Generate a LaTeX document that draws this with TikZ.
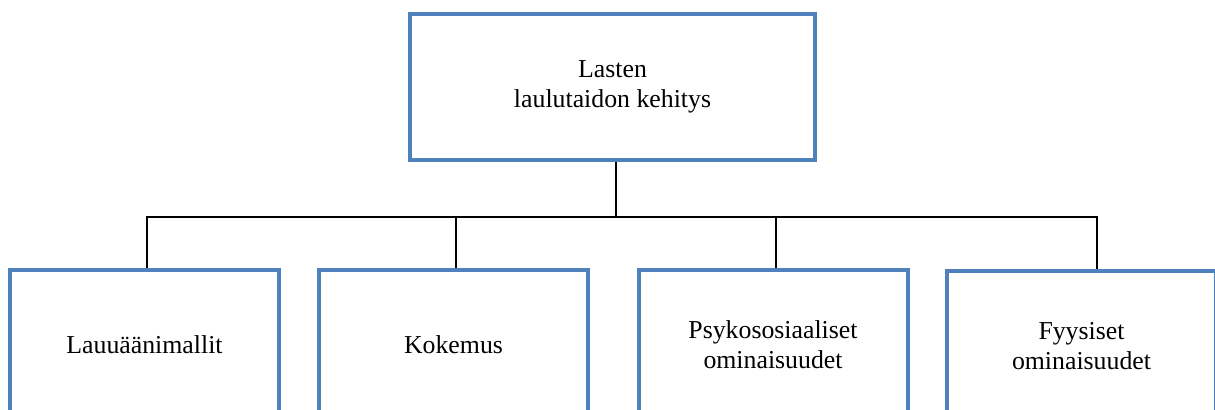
\documentclass[tikz,border=0pt]{standalone}
\usepackage{fontspec}
\setmainfont{Liberation Serif}
\usetikzlibrary{
	positioning
}
\definecolor{boxblue}{RGB}{79,129,189}
\tikzset{
	x=0.5pt, y=-0.5pt,
	topbox/.style={draw=boxblue, line width=2pt, align=center,
		minimum width=202.5pt, minimum height=73pt, inner sep=0pt,
		font=\fontsize{12.9}{15}\selectfont},
	leafbox/.style={draw=boxblue, line width=2pt, align=center,
		minimum width=134.5pt, minimum height=75pt, inner sep=0pt,
		font=\fontsize{12.9}{15}\selectfont},
	link/.style={draw=black, line width=0.9pt}
}
\begin{document}
\begin{tikzpicture}
	\path[use as bounding box, clip] (0,0) rectangle (1215,409);

	\node[topbox] (lasten) at (612.5,87) {Lasten\\laulutaidon kehitys};

	\node[leafbox] (malli) at (144.5,345) {Lauuäänimallit};
	\node[leafbox] (kokemus) at (453.5,345) {Kokemus};
	\node[leafbox] (psyko) at (773,345) {Psykososiaaliset\\ominaisuudet};
	\node[leafbox] (fyys) at (1081.5,346) {Fyysiset\\ominaisuudet};

	% the links do not meet the boxes at their middles
	\draw[link] ([xshift=1.75pt]lasten.south) -- ++(0,55) coordinate (bus);
	\draw[link] ([xshift=1.25pt]malli.north) |- (bus) -| ([xshift=7.75pt]fyys.north);
	\draw[link] ([xshift=1.25pt]kokemus.north) -- ([xshift=1.25pt]kokemus.north |- bus);
	\draw[link] ([xshift=1.5pt]psyko.north) -- ([xshift=1.5pt]psyko.north |- bus);
\end{tikzpicture}
\end{document}
